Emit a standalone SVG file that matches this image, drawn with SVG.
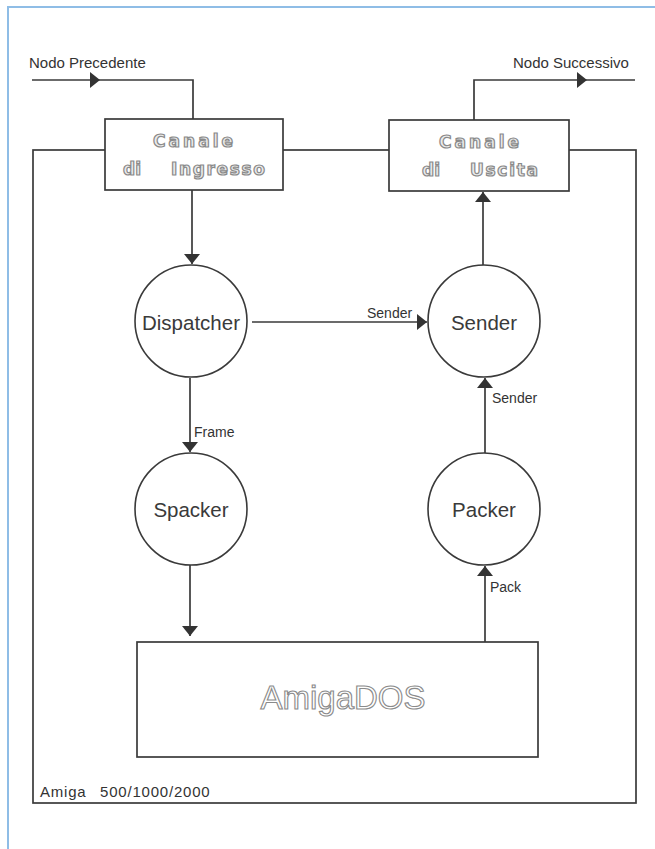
<svg xmlns="http://www.w3.org/2000/svg" width="655" height="849" viewBox="0 0 655 849">
<style>
.ln{fill:none;stroke:#3a3a3a;stroke-width:1.7}
.box{fill:#fff;stroke:#3a3a3a;stroke-width:1.7}
.circ{fill:#fff;stroke:#3a3a3a;stroke-width:1.6}
.lbl{font-family:"Liberation Sans",Arial,sans-serif;font-size:14px;fill:#333}
.node{font-family:"Liberation Sans",Arial,sans-serif;font-size:20.5px;fill:#3a3a3a;text-anchor:middle}
.out{font-family:"DejaVu Sans",sans-serif;font-weight:bold;font-size:17px;fill:#ececec;stroke:#8a8a8a;stroke-width:1.2}
.dos{font-family:"Liberation Sans",Arial,sans-serif;font-size:33px;fill:#fff;stroke:#8a8a8a;stroke-width:1.1;text-anchor:middle}
</style>
<defs>
<marker id="arr" viewBox="0 0 10 16" refX="10" refY="8" markerWidth="10" markerHeight="16" markerUnits="userSpaceOnUse" orient="auto">
<path d="M0,0 L10,8 L0,16 z" fill="#333"/>
</marker>
</defs>
<rect width="655" height="849" fill="#fff"/>
<g id="frame">
<path d="M8,849 V7 H655" fill="none" stroke="#8fbde6" stroke-width="2"/>
</g>
<g id="amiga">
<rect x="33" y="150" width="603" height="653" class="ln"/>
<text x="40" y="797" class="lbl" letter-spacing="0.8" style="font-size:15px">Amiga <tspan x="100">500/1000/2000</tspan></text>
</g>
<g id="connectors">
<line x1="32" y1="80" x2="100" y2="80" class="ln" marker-end="url(#arr)"/>
<path d="M100,80 H193 V119" class="ln"/>
<path d="M474,120 V80 H587" class="ln" marker-end="url(#arr)"/>
<line x1="587" y1="80" x2="635" y2="80" class="ln"/>
<line x1="192" y1="190" x2="192" y2="264" class="ln" marker-end="url(#arr)"/>
<line x1="252" y1="322" x2="427" y2="322" class="ln" marker-end="url(#arr)"/>
<line x1="483" y1="265" x2="483" y2="192" class="ln" marker-end="url(#arr)"/>
<line x1="485" y1="453" x2="485" y2="378" class="ln" marker-end="url(#arr)"/>
<line x1="190" y1="378" x2="190" y2="452" class="ln" marker-end="url(#arr)"/>
<line x1="190" y1="565" x2="190" y2="636" class="ln" marker-end="url(#arr)"/>
<line x1="485" y1="642" x2="485" y2="566" class="ln" marker-end="url(#arr)"/>
<text x="29" y="68" class="lbl" style="font-size:15px">Nodo Precedente</text>
<text x="513" y="68" class="lbl" style="font-size:15px">Nodo Successivo</text>
<text x="367" y="318" class="lbl">Sender</text>
<text x="492" y="403" class="lbl">Sender</text>
<text x="194" y="437" class="lbl">Frame</text>
<text x="490" y="592" class="lbl">Pack</text>
</g>
<g id="canale-ingresso">
<rect x="105" y="119" width="178" height="71" class="box"/>
<text x="153" y="147" class="out" textLength="80" lengthAdjust="spacing">Canale</text>
<text x="123" y="175" class="out">di</text>
<text x="171" y="175" class="out" textLength="94" lengthAdjust="spacing">Ingresso</text>
</g>
<g id="canale-uscita">
<rect x="389" y="120" width="180" height="71" class="box"/>
<text x="439" y="148" class="out" textLength="80" lengthAdjust="spacing">Canale</text>
<text x="422" y="176" class="out">di</text>
<text x="470" y="176" class="out" textLength="68" lengthAdjust="spacing">Uscita</text>
</g>
<g id="dispatcher">
<circle cx="191" cy="321" r="56" class="circ"/>
<text x="191" y="330" class="node">Dispatcher</text>
</g>
<g id="sender">
<circle cx="484" cy="321" r="56" class="circ"/>
<text x="484" y="330" class="node">Sender</text>
</g>
<g id="spacker">
<circle cx="191" cy="509" r="56" class="circ"/>
<text x="191" y="517" class="node">Spacker</text>
</g>
<g id="packer">
<circle cx="484" cy="509" r="56" class="circ"/>
<text x="484" y="517" class="node">Packer</text>
</g>
<g id="amigados">
<rect x="137" y="642" width="401" height="115" class="box"/>
<text x="343" y="709" class="dos">AmigaDOS</text>
</g>
</svg>
